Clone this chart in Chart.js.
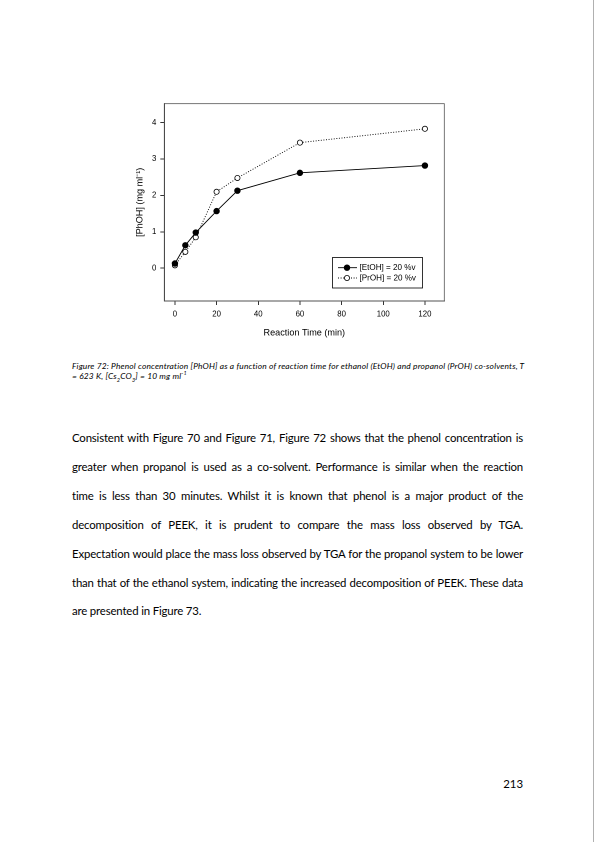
<!DOCTYPE html>
<html>
<head>
<meta charset="utf-8">
<script src="https://cdn.jsdelivr.net/npm/chart.js@4.4.1/dist/chart.umd.min.js"></script>
<style>
  html, body { margin:0; padding:0; background:#fff; }
  body { width:595px; height:842px; position:relative; overflow:hidden; }
  #edge { position:absolute; left:593px; top:0; width:1px; height:842px; background:#b0b0b0; }
  #wrap { position:absolute; left:120px; top:95px; width:335px; height:250px; }
  .cap { position:absolute; left:72px; font-family:Lato, "Open Sans", sans-serif; font-style:italic; font-size:8.4px; letter-spacing:0.17px; color:#000; white-space:nowrap; line-height:10px; }
  .cap sub, .cap sup { font-size:5.5px; line-height:0; }
  .ln { position:absolute; left:72px; width:451px; font-family:Lato, "Open Sans", sans-serif; font-size:11.4px; letter-spacing:-0.16px; color:#000; white-space:nowrap; text-align:justify; text-align-last:justify; line-height:14px; }
  .ln.last { text-align:left; text-align-last:left; }
  #pg { position:absolute; left:480px; width:43px; text-align:right; top:777px; font-family:Lato, sans-serif; font-size:11.4px; line-height:14px; }
</style>
</head>
<body>
<div id="edge"></div>
<div id="wrap"><canvas id="c" width="335" height="250"></canvas></div>

<div class="cap" style="top:361px">Figure 72: Phenol concentration [PhOH] as a function of reaction time for ethanol (EtOH) and propanol (PrOH) co-solvents, T</div>
<div class="cap" style="top:370.5px">= 623 K, [Cs<sub>2</sub>CO<sub>3</sub>] = 10 mg ml<sup>-1</sup></div>

<div class="ln" style="top:431px">Consistent with Figure 70 and Figure 71, Figure 72 shows that the phenol concentration is</div>
<div class="ln" style="top:460px">greater when propanol is used as a co-solvent. Performance is similar when the reaction</div>
<div class="ln" style="top:489px">time is less than 30 minutes. Whilst it is known that phenol is a major product of the</div>
<div class="ln" style="top:518px">decomposition of PEEK, it is prudent to compare the mass loss observed by TGA.</div>
<div class="ln" style="top:547px">Expectation would place the mass loss observed by TGA for the propanol system to be lower</div>
<div class="ln" style="top:576px">than that of the ethanol system, indicating the increased decomposition of PEEK. These data</div>
<div class="ln last" style="top:604px">are presented in Figure 73.</div>

<div id="pg">213</div>

<script>
const times = [0, 5, 10, 20, 30, 60, 120];
const etohValues = [0.13, 0.63, 0.98, 1.57, 2.13, 2.62, 2.82];
const prohValues = [0.08, 0.45, 0.85, 2.10, 2.48, 3.45, 3.83];
const xTickValues = [0, 20, 40, 60, 80, 100, 120];
const yTickValues = [0, 1, 2, 3, 4];
const seriesLabels = ['[EtOH] = 20 %v', '[PrOH] = 20 %v'];

const toPts = (xs, ys) => xs.map((x, i) => ({x: x, y: ys[i]}));
const FONT = '"Liberation Sans", Arial, sans-serif';

const framePlugin = {
  id: 'frame',
  afterDraw(chart) {
    const {ctx, chartArea: a} = chart;
    ctx.save();
    ctx.strokeStyle = '#555';
    ctx.lineWidth = 0.8;
    ctx.strokeRect(a.left, a.top, a.right - a.left, a.bottom - a.top);
    ctx.restore();
  }
};

const legendPlugin = {
  id: 'boxLegend',
  afterDraw(chart) {
    const {ctx} = chart;
    const bx = 212.5, by = 162.5, bw = 90, bh = 30.5;
    ctx.save();
    ctx.fillStyle = '#fff';
    ctx.fillRect(bx, by, bw, bh);
    ctx.strokeStyle = '#000';
    ctx.lineWidth = 0.8;
    ctx.strokeRect(bx, by, bw, bh);
    chart.data.datasets.forEach((ds, i) => {
      const y = by + 10.2 + i * 10.3;
      ctx.beginPath();
      ctx.setLineDash(ds.borderDash || []);
      ctx.strokeStyle = '#000';
      ctx.lineWidth = ds.borderWidth;
      ctx.moveTo(bx + 5.5, y);
      ctx.lineTo(bx + 24.5, y);
      ctx.stroke();
      ctx.setLineDash([]);
      ctx.beginPath();
      ctx.arc(bx + 14.5, y, ds.pointRadius, 0, Math.PI * 2);
      ctx.fillStyle = ds.pointBackgroundColor;
      ctx.fill();
      ctx.lineWidth = 0.8;
      ctx.stroke();
      ctx.fillStyle = '#000';
      ctx.font = '8.1px ' + FONT;
      ctx.textBaseline = 'middle';
      ctx.fillText(ds.label, bx + 27, y + 0.3);
    });
    ctx.restore();
  }
};

new Chart(document.getElementById('c'), {
  type: 'scatter',
  data: {
    datasets: [
      {
        label: seriesLabels[0],
        data: toPts(times, etohValues),
        showLine: true,
        borderColor: '#000',
        borderWidth: 0.9,
        pointRadius: 2.8,
        pointBackgroundColor: '#000',
        pointBorderColor: '#000',
        pointBorderWidth: 0.8
      },
      {
        label: seriesLabels[1],
        data: toPts(times, prohValues),
        showLine: true,
        borderColor: '#000',
        borderWidth: 0.9,
        borderDash: [1, 1.6],
        pointRadius: 2.6,
        pointBackgroundColor: '#fff',
        pointBorderColor: '#000',
        pointBorderWidth: 0.8
      }
    ]
  },
  options: {
    responsive: false,
    animation: false,
    devicePixelRatio: 2,
    layout: { padding: { left: 0, top: 6, right: 10.7, bottom: 0 } },
    plugins: { legend: { display: false }, tooltip: { enabled: false } },
    scales: {
      x: {
        type: 'linear',
        min: -5.1,
        max: 129.3,
        afterBuildTicks: s => { s.ticks = xTickValues.map(v => ({value: v})); },
        afterFit: s => { s.height = 44; },
        grid: { display: true, drawOnChartArea: false, drawTicks: true, tickLength: 4, color: '#000', lineWidth: 0.8 },
        border: { display: true, color: '#000', width: 0.8 },
        ticks: { color: '#000', font: { family: FONT, size: 7.8 }, padding: 4.5, maxRotation: 0 },
        title: { display: true, text: 'Reaction Time (min)', color: '#000', font: { family: FONT, size: 9.1 }, padding: { top: 0, bottom: 6.5 } }
      },
      y: {
        type: 'linear',
        min: -0.9,
        max: 4.52,
        afterBuildTicks: s => { s.ticks = yTickValues.map(v => ({value: v})); },
        afterFit: s => { s.width = 44.3; },
        grid: { display: true, drawOnChartArea: false, drawTicks: true, tickLength: 4, color: '#000', lineWidth: 0.8 },
        border: { display: true, color: '#000', width: 0.8 },
        ticks: { color: '#000', font: { family: FONT, size: 7.8 }, padding: 4 },
        title: { display: true, text: '[PhOH] (mg ml\u207B\u00B9)', color: '#000', font: { family: FONT, size: 9.1 }, padding: { top: 14.5, bottom: 0 } }
      }
    }
  },
  plugins: [framePlugin, legendPlugin]
});
</script>
</body>
</html>
